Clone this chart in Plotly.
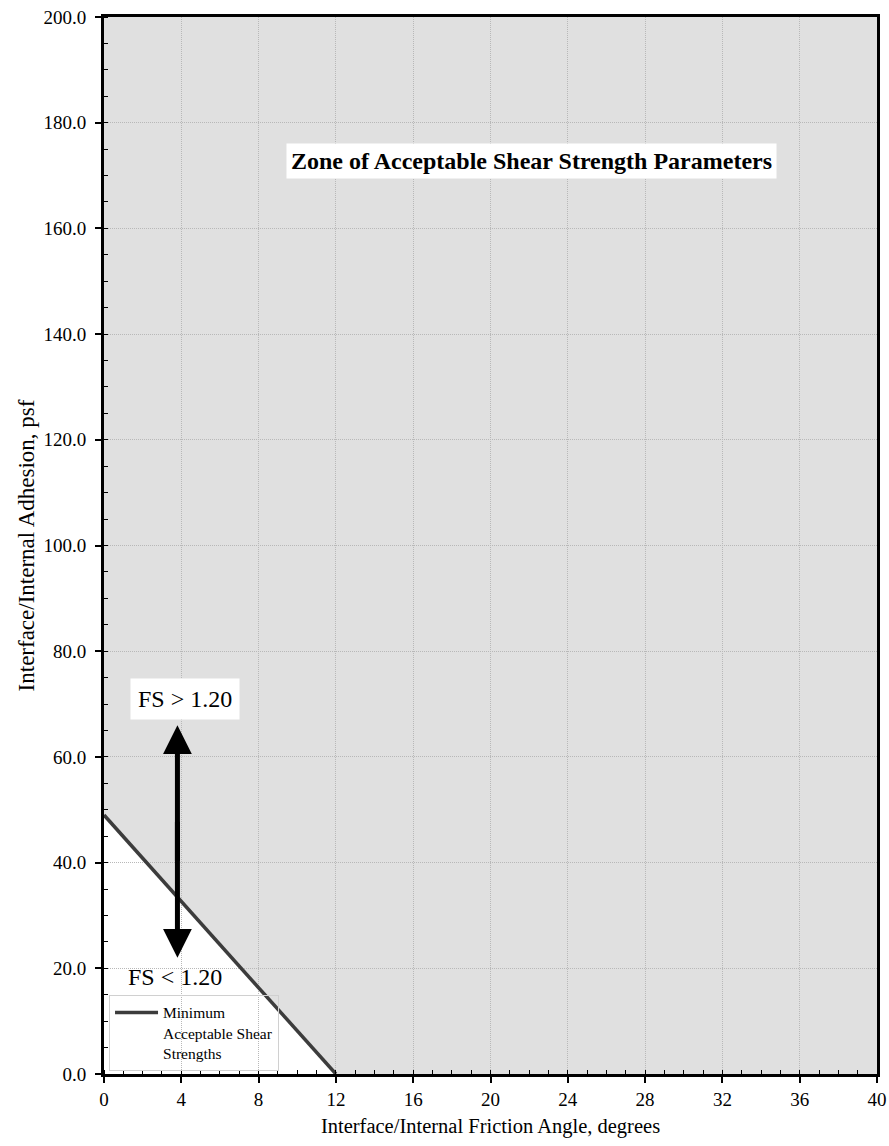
import plotly.graph_objects as go

# Data
line_x = [0, 12]
line_y = [49, 0]
series_name = "Minimum<br>Acceptable Shear<br>Strengths"
x_ticks = [0, 4, 8, 12, 16, 20, 24, 28, 32, 36, 40]
y_ticks = [0, 20, 40, 60, 80, 100, 120, 140, 160, 180, 200]
arrow_x = 3.8
arrow_top = 66
arrow_bottom = 22
arrow_tail_up = 40
arrow_tail_down = 48

FONT = "Liberation Serif, Times New Roman, serif"
GRAY = "#e0e0e0"

fig = go.Figure()
fig.add_trace(go.Scatter(
    x=line_x, y=line_y, mode="lines", name=series_name,
    line=dict(color="#3c3c3c", width=3.5), cliponaxis=False,
))

# white (unacceptable) triangle under the line, below gridlines
path = (f"M {line_x[0]},{line_y[-1]} L {line_x[0]},{line_y[0]} "
        f"L {line_x[1]},{line_y[1]} Z")
fig.add_shape(type="path", path=path, xref="x", yref="y",
              fillcolor="white", line=dict(width=0), layer="below")

# annotations
fig.add_annotation(x=22.12, y=172.7, xref="x", yref="y",
                   text="<b>Zone of Acceptable Shear Strength Parameters</b>",
                   showarrow=False, bgcolor="white", borderpad=4,
                   font=dict(family=FONT, size=24, color="black"))
fig.add_annotation(x=4.19, y=71.0, xref="x", yref="y", text="FS > 1.20",
                   showarrow=False, bgcolor="white", borderpad=7,
                   font=dict(family=FONT, size=24, color="black"))
fig.add_annotation(x=3.67, y=18.4, xref="x", yref="y", text="FS < 1.20",
                   showarrow=False,
                   font=dict(family=FONT, size=24, color="black"))
for tip, tail in ((arrow_top, arrow_tail_up), (arrow_bottom, arrow_tail_down)):
    fig.add_annotation(x=arrow_x, y=tip, ax=arrow_x, ay=tail,
                       xref="x", yref="y", axref="x", ayref="y", text="",
                       showarrow=True, arrowhead=2, arrowsize=1.15,
                       arrowwidth=5, arrowcolor="black")

axis_common = dict(
    showline=True, linecolor="black", linewidth=3, mirror=True,
    ticks="outside", ticklen=6, tickwidth=1.5, tickcolor="black",
    showgrid=True, gridcolor="#b8b8b8", gridwidth=1, griddash="1px,1px",
    zeroline=False, tickfont=dict(family=FONT, size=19, color="black"),
    automargin=False,
)

fig.update_xaxes(
    range=[0, 40], tickvals=x_ticks, ticktext=[str(v) for v in x_ticks],
    minor=dict(dtick=1, ticks="inside", ticklen=4, tickcolor="black",
               tickwidth=1, showgrid=False),
    title=dict(text="Interface/Internal Friction Angle, degrees",
               font=dict(family=FONT, size=20.5, color="black"), standoff=10),
    **axis_common,
)
fig.update_yaxes(
    range=[0, 200], tickvals=y_ticks, ticktext=[f"{v:.1f}" for v in y_ticks],
    minor=dict(dtick=5, ticks="inside", ticklen=4, tickcolor="black",
               tickwidth=1, showgrid=False),
    ticklabelstandoff=5,
    title=dict(text="Interface/Internal Adhesion, psf",
               font=dict(family=FONT, size=23, color="black"), standoff=3),
    **axis_common,
)

fig.update_layout(
    width=889, height=1146,
    margin=dict(l=104, r=12, t=17, b=72),
    paper_bgcolor="white", plot_bgcolor=GRAY,
    font=dict(family=FONT, color="black"),
    showlegend=True,
    legend=dict(x=0.0065, y=0.003, xanchor="left", yanchor="bottom",
                bgcolor="rgba(255,255,255,0)", bordercolor="#d0d0d0",
                borderwidth=1,
                font=dict(family=FONT, size=15.5, color="black"),
                valign="top", itemwidth=43),
)

fig.write_html("out.html", config={"displayModeBar": False},
               post_script="document.body.style.margin='0';document.body.style.overflow='hidden';")
